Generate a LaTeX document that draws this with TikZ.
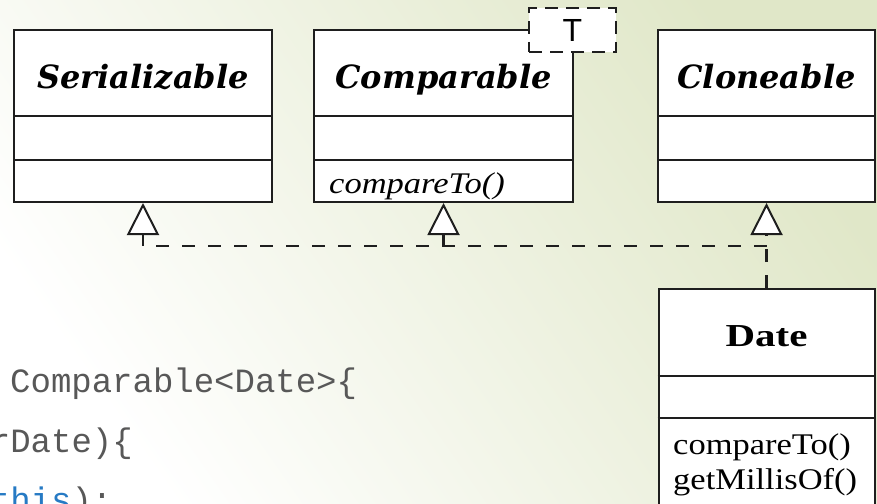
\documentclass[tikz,border=0pt]{standalone}
\usepackage{fontspec}
\setmainfont{Liberation Serif}
\newfontfamily\headfont{DejaVu Serif}
\newfontfamily\bodyfont{Liberation Serif}[FakeStretch=1.15]
\newfontfamily\namefont{Liberation Serif}[FakeStretch=1.28]
\newfontfamily\codefont{Liberation Mono}
\newfontfamily\paramfont{Liberation Sans}
\usetikzlibrary{arrows.meta}

\definecolor{bggreen}{RGB}{224,231,200}
\definecolor{umlline}{RGB}{30,30,30}
\definecolor{codegray}{RGB}{88,88,88}
\definecolor{codeblue}{RGB}{38,122,196}

\begin{document}
\begin{tikzpicture}[x=1pt, y=-1pt,
    classbox/.style={draw=umlline, line width=2pt, fill=white, inner sep=0pt},
    divider/.style={draw=umlline, line width=2pt},
    headtext/.style={anchor=base, inner sep=0pt, font=\headfont\fontsize{32}{38}\selectfont\bfseries\itshape},
    nametext/.style={anchor=base, inner sep=0pt, font=\namefont\fontsize{32}{36}\selectfont\bfseries},
    method/.style={anchor=base west, inner sep=0pt, font=\bodyfont\fontsize{30}{35}\selectfont},
    paramtext/.style={draw=umlline, line width=2pt, dash pattern=on 13pt off 8pt, fill=white, inner sep=0pt, font=\paramfont\fontsize{32}{36}\selectfont},
    code/.style={anchor=base west, inner sep=0pt, text=codegray, font=\codefont\fontsize{34}{40}\selectfont},
    realize/.style={draw=umlline, line width=2.2pt, dash pattern=on 13pt off 13pt,
        -{Triangle[length=32pt, width=32pt, fill=white, line width=2pt]}}]
    \clip (0,0) rectangle (877,503);
    % slide background
    \shade[bottom color=white, top color=bggreen, shading angle=-55] (0,0) rectangle (877,503);

    % code behind the diagram
    \node[code] (line1) at (10,392) {Comparable<Date>\{};
    \node[code] (line2) at (-10.3,452) {rDate)\{};
    \node[code] (line3) at (-10.3,511) {\textcolor{codeblue}{this});};

    % interfaces
    \node[classbox, minimum width=258pt, minimum height=172pt] (serial) at (143,116) {};
    \node[headtext] (serialname) at (143,88) {Serializable};
    \draw[divider] (serial.west |- 0,116) -- (serial.east |- 0,116);
    \draw[divider] (serial.west |- 0,160) -- (serial.east |- 0,160);

    \node[classbox, minimum width=259pt, minimum height=172pt] (compar) at (443.5,116) {};
    \node[headtext] (comparname) at (443.5,88) {Comparable};
    \draw[divider] (compar.west |- 0,116) -- (compar.east |- 0,116);
    \draw[divider] (compar.west |- 0,160) -- (compar.east |- 0,160);
    \node[method, font=\bodyfont\fontsize{30}{35}\selectfont\itshape] (comparop) at (329,193) {compareTo()};
    \node[paramtext, minimum width=87pt, minimum height=44pt] (param) at (572.5,30) {T};

    \node[classbox, minimum width=217pt, minimum height=172pt] (clone) at (766.5,116) {};
    \node[headtext] (clonename) at (766.5,88) {Cloneable};
    \draw[divider] (clone.west |- 0,116) -- (clone.east |- 0,116);
    \draw[divider] (clone.west |- 0,160) -- (clone.east |- 0,160);

    % implementing class
    \node[classbox, minimum width=216pt, minimum height=251pt] (date) at (766.5,414.5) {};
    \node[nametext] (datename) at (766.5,346) {Date};
    \draw[divider] (date.west |- 0,376) -- (date.east |- 0,376);
    \draw[divider] (date.west |- 0,418) -- (date.east |- 0,418);
    \node[method] (dateop1) at (673,454) {compareTo()};
    \node[method] (dateop2) at (673,489) {getMillisOf()};

    % realizations
    \coordinate (bus) at (443.5,246);
    \draw[realize] (date.north) -- (clone.south);
    \draw[realize] (date.north |- bus) -| (serial.south);
    \draw[realize] (bus) -- (compar.south);
\end{tikzpicture}
\end{document}
